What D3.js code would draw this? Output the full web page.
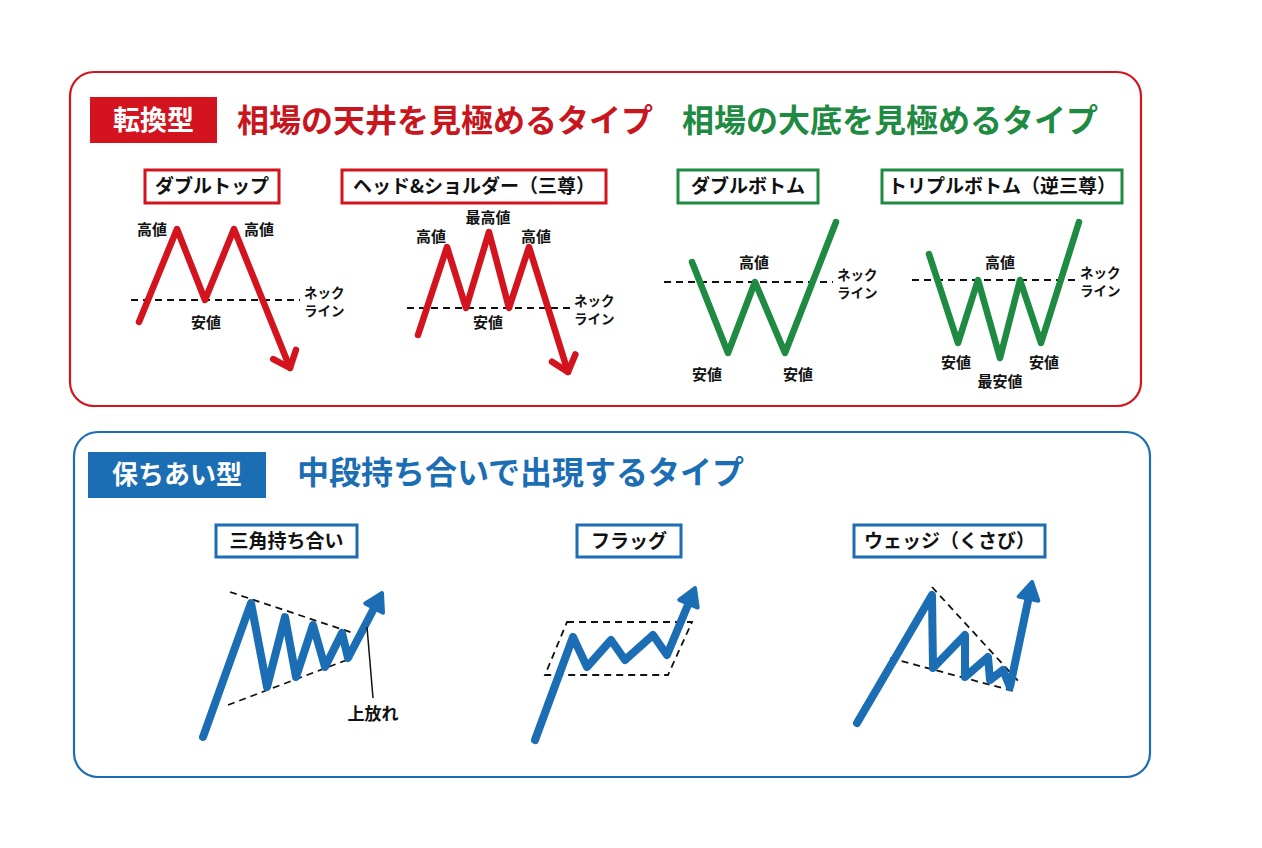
<!DOCTYPE html>
<html>
<head>
<meta charset="utf-8">
<script src="https://cdn.jsdelivr.net/npm/d3@7"></script>
<style>
  body { margin: 0; background: #fff; }
  text { font-family: "Noto Sans CJK JP", "Noto Sans", sans-serif; font-weight: 700; }
</style>
</head>
<body>
<div id="chart"></div>
<script>
// ---- data: pattern shapes as [time, price] (price grows upward) ----
const doubleTop    = [[9, 53], [47, 146], [75, 75], [104, 146], [160, 7]];
const headShoulder = [[13, 45], [42, 133], [61, 72], [84, 148], [104, 72], [124, 133], [163, 8]];
const doubleBottom = [[32, 98], [68, 7], [95, 78], [125, 7], [176, 138]];
const tripleBottom = [[24, 111], [53, 22], [73, 85], [95, 7], [115, 85], [136, 22], [174, 143]];
const triangle     = [[8, 8], [56, 142], [72, 58], [90, 128], [101, 68], [118, 120], [130, 78], [147, 112], [153, 87], [187, 152]];
const flag         = [[5, 5], [43, 108], [57, 78], [81, 105], [95, 85], [123, 110], [137, 90], [165, 157]];
const wedge        = [[7, 7], [82, 135], [83, 62], [115, 95], [115, 53], [138, 73], [140, 50], [153, 60], [160, 43], [182, 148]];

// necklines: [level, tStart, tEnd]
const necklines = {
  doubleTop: [75, 1, 170],
  headShoulder: [72, 2, 165],
  doubleBottom: [78, 4, 173],
  tripleBottom: [85, 7, 171]
};

// trend / channel lines: pairs of [time, price]
const triangleUpper = [[35, 153], [158, 112]];
const triangleLower = [[33, 40], [157, 87]];
const flagBox       = [[37, 123], [162, 123], [138, 70], [15, 70]];
const wedgeUpper    = [[82, 143], [170, 47]];
const wedgeLower    = [[40, 72], [167, 38]];
const breakoutLeader = [[172, 118], [178, 47]];

// texts
const sectionTags   = ["転換型", "保ちあい型"];
const sectionTitles = ["相場の天井を見極めるタイプ", "相場の大底を見極めるタイプ", "中段持ち合いで出現するタイプ"];
const patternNames  = ["ダブルトップ", "ヘッド&ショルダー（三尊）", "ダブルボトム", "トリプルボトム（逆三尊）", "三角持ち合い", "フラッグ", "ウェッジ（くさび）"];
const neckText      = ["ネック", "ライン"];
const breakoutText  = "上放れ";

// ---- layout & styles ----
const RED = "#d3141f", RED_T = "#c8161e", GREEN = "#1f8a42", BLUE = "#1b6db4", INK = "#111";

const frames = {
  doubleTop:    { x: 130, y: 215, w: 175, h: 160 },
  headShoulder: { x: 405, y: 215, w: 175, h: 165 },
  doubleBottom: { x: 660, y: 215, w: 180, h: 145 },
  tripleBottom: { x: 905, y: 215, w: 180, h: 150 },
  triangle:     { x: 195, y: 580, w: 195, h: 165 },
  flag:         { x: 530, y: 580, w: 170, h: 165 },
  wedge:        { x: 850, y: 575, w: 190, h: 155 }
};

const nameBoxes = [
  { x0: 145, x1: 279, y0: 170, y1: 203, c: RED },
  { x0: 342, x1: 606, y0: 170, y1: 203, c: RED },
  { x0: 678, x1: 818, y0: 170, y1: 203, c: GREEN },
  { x0: 882, x1: 1122, y0: 170, y1: 203, c: GREEN },
  { x0: 216, x1: 357, y0: 525, y1: 557, c: BLUE },
  { x0: 577, x1: 681, y0: 525, y1: 557, c: BLUE },
  { x0: 854, x1: 1045, y0: 525, y1: 557, c: BLUE }
];

// point labels: text, index of point, offset in px
const notes = {
  doubleTop:    [["高値", 1, -25, 1], ["高値", 3, 25, 1], ["安値", 2, 1, 23]],
  headShoulder: [["高値", 1, -16, -10], ["最高値", 3, -1, -14], ["高値", 5, 7, -10], ["安値", 2, 22, 15]],
  doubleBottom: [["高値", 2, -1, -19], ["安値", 1, -21, 22], ["安値", 3, 13, 22]],
  tripleBottom: [["高値", 2, 22, -17], ["安値", 1, -2, 20], ["最安値", 3, 0, 24], ["安値", 5, 3, 20]]
};

const W = 1262, H = 848;
const svg = d3.select("#chart").append("svg")
  .attr("width", W).attr("height", H);

function scales(f) {
  return {
    x: d3.scaleLinear().domain([0, f.w]).range([f.x, f.x + f.w]),
    y: d3.scaleLinear().domain([0, f.h]).range([f.y + f.h, f.y])
  };
}

// ---- section panels ----
svg.append("rect").attr("x", 70).attr("y", 72).attr("width", 1071).attr("height", 334)
  .attr("rx", 24).attr("fill", "none").attr("stroke", RED).attr("stroke-width", 2.2);
svg.append("rect").attr("x", 74).attr("y", 432).attr("width", 1076).attr("height", 345)
  .attr("rx", 24).attr("fill", "none").attr("stroke", BLUE).attr("stroke-width", 2.2);

// tags
svg.append("rect").attr("x", 90).attr("y", 97).attr("width", 127).attr("height", 46).attr("fill", RED);
svg.append("text").attr("x", 153.5).attr("y", 120).attr("dy", "0.36em")
  .attr("text-anchor", "middle").attr("fill", "#fff").attr("font-size", 27).text(sectionTags[0]);
svg.append("rect").attr("x", 88).attr("y", 452).attr("width", 178).attr("height", 46).attr("fill", BLUE);
svg.append("text").attr("x", 177).attr("y", 475).attr("dy", "0.36em")
  .attr("text-anchor", "middle").attr("fill", "#fff").attr("font-size", 26).text(sectionTags[1]);

// titles
svg.append("text").attr("x", 237).attr("y", 120).attr("dy", "0.36em")
  .attr("fill", RED_T).attr("font-size", 32).attr("font-weight", 900).text(sectionTitles[0]);
svg.append("text").attr("x", 682).attr("y", 120).attr("dy", "0.36em")
  .attr("fill", GREEN).attr("font-size", 32).attr("font-weight", 900).text(sectionTitles[1]);
svg.append("text").attr("x", 297).attr("y", 472).attr("dy", "0.36em")
  .attr("fill", BLUE).attr("font-size", 32).attr("font-weight", 900).text(sectionTitles[2]);

// pattern name boxes
const nb = svg.append("g").selectAll("g").data(nameBoxes).enter().append("g");
nb.append("rect")
  .attr("x", d => d.x0).attr("y", d => d.y0)
  .attr("width", d => d.x1 - d.x0).attr("height", d => d.y1 - d.y0)
  .attr("fill", "#fff").attr("stroke", d => d.c).attr("stroke-width", 3);
nb.append("text")
  .attr("x", d => (d.x0 + d.x1) / 2).attr("y", d => (d.y0 + d.y1) / 2).attr("dy", "0.36em")
  .attr("text-anchor", "middle").attr("fill", INK).attr("font-size", 19)
  .text((d, i) => patternNames[i]);

// ---- helpers ----
function dashed(s, pts, closed) {
  const line = d3.line().x(d => s.x(d[0])).y(d => s.y(d[1]));
  svg.append("path").attr("d", line(pts) + (closed ? "Z" : ""))
    .attr("fill", "none").attr("stroke", INK).attr("stroke-width", 1.8)
    .attr("stroke-dasharray", "7 5");
}

function drawLine(key, pts, color, width, head) {
  const s = scales(frames[key]);
  const px = pts.map(d => [s.x(d[0]), s.y(d[1])]);
  const n = px.length;
  const tip = px[n - 1], prev = px[n - 2];
  const len = Math.hypot(tip[0] - prev[0], tip[1] - prev[1]);
  const u = [(prev[0] - tip[0]) / len, (prev[1] - tip[1]) / len];
  const rot = (v, a) => [v[0] * Math.cos(a) - v[1] * Math.sin(a), v[0] * Math.sin(a) + v[1] * Math.cos(a)];
  const body = px.slice();
  if (head === "fill") body[n - 1] = [tip[0] + u[0] * 12, tip[1] + u[1] * 12];
  svg.append("path").attr("d", d3.line()(body))
    .attr("fill", "none").attr("stroke", color).attr("stroke-width", width)
    .attr("stroke-linejoin", "round").attr("stroke-linecap", "round");
  if (head === "chevron") {
    const a = rot(u, 0.7), b = rot(u, -0.7), L = 19;
    svg.append("path")
      .attr("d", d3.line()([[tip[0] + a[0] * L, tip[1] + a[1] * L], tip, [tip[0] + b[0] * L, tip[1] + b[1] * L]]))
      .attr("fill", "none").attr("stroke", color).attr("stroke-width", width)
      .attr("stroke-linejoin", "round").attr("stroke-linecap", "round");
  } else if (head === "fill") {
    const p = [-u[1], u[0]], back = 17, half = 10;
    const bc = [tip[0] + u[0] * back, tip[1] + u[1] * back];
    svg.append("path")
      .attr("d", d3.line()([tip, [bc[0] + p[0] * half, bc[1] + p[1] * half], [bc[0] - p[0] * half, bc[1] - p[1] * half]]) + "Z")
      .attr("fill", color).attr("stroke", color).attr("stroke-width", 4).attr("stroke-linejoin", "round");
  }
  return { s, px };
}

function neck(key) {
  const s = scales(frames[key]);
  const [lv, t0, t1] = necklines[key];
  dashed(s, [[t0, lv], [t1, lv]]);
  const x = s.x(t1) + 4, y = s.y(lv);
  // two stacked lines, tight like the reference
  svg.append("text").attr("x", x).attr("y", y - 2)
    .attr("font-size", 13.5).attr("fill", INK).text(neckText[0]);
  svg.append("text").attr("x", x).attr("y", y + 16)
    .attr("font-size", 13.5).attr("fill", INK).text(neckText[1]);
}

function labels(key, px) {
  notes[key].forEach(([t, i, dx, dy]) => {
    svg.append("text").attr("x", px[i][0] + dx).attr("y", px[i][1] + dy).attr("dy", "0.36em")
      .attr("text-anchor", "middle").attr("font-size", 15).attr("fill", INK).text(t);
  });
}

// ---- reversal patterns ----
neck("doubleTop");
labels("doubleTop", drawLine("doubleTop", doubleTop, RED, 6.5, "chevron").px);
neck("headShoulder");
labels("headShoulder", drawLine("headShoulder", headShoulder, RED, 6.5, "chevron").px);
neck("doubleBottom");
labels("doubleBottom", drawLine("doubleBottom", doubleBottom, GREEN, 6.5, null).px);
neck("tripleBottom");
labels("tripleBottom", drawLine("tripleBottom", tripleBottom, GREEN, 6.5, null).px);

// ---- continuation patterns ----
const st = scales(frames.triangle);
dashed(st, triangleUpper);
dashed(st, triangleLower);
drawLine("triangle", triangle, BLUE, 8, "fill");
svg.append("path").attr("d", d3.line().x(d => st.x(d[0])).y(d => st.y(d[1]))(breakoutLeader))
  .attr("stroke", INK).attr("stroke-width", 1.5).attr("fill", "none");
svg.append("text").attr("x", st.x(breakoutLeader[1][0])).attr("y", st.y(breakoutLeader[1][1]) + 16)
  .attr("dy", "0.36em").attr("text-anchor", "middle").attr("font-size", 17).attr("fill", INK).text(breakoutText);

const sf = scales(frames.flag);
dashed(sf, flagBox, true);
drawLine("flag", flag, BLUE, 8, "fill");

const sw = scales(frames.wedge);
dashed(sw, wedgeUpper);
dashed(sw, wedgeLower);
drawLine("wedge", wedge, BLUE, 8, "fill");
</script>
</body>
</html>
